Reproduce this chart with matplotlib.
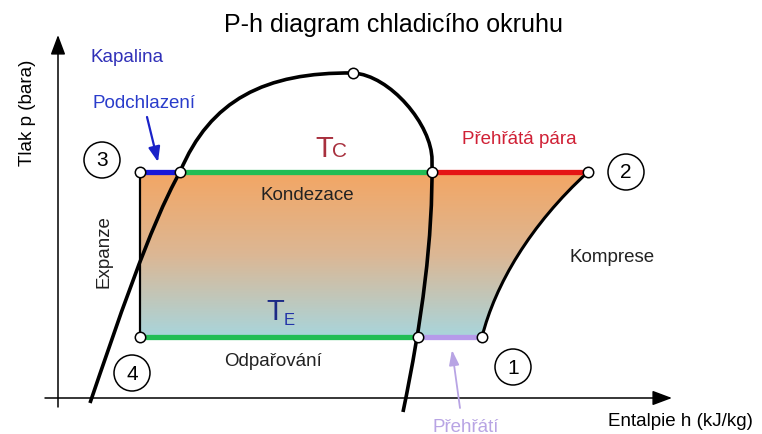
import matplotlib
matplotlib.use("Agg")
import matplotlib.pyplot as plt
import numpy as np
from matplotlib.patches import Circle, PathPatch
from matplotlib.path import Path
from matplotlib.colors import LinearSegmentedColormap

plt.rcParams['font.family'] = ['Liberation Sans', 'DejaVu Sans']

# ---- data (schematic diagram units: h to the right, p downward in image space) ----
p_cond = 172          # condensation pressure level
p_evap = 337          # evaporation pressure level
h_state = [482, 588, 140, 140]       # states 1, 2, 3, 4
p_state = [337, 172, 172, 337]
state_labels = ['1', '2', '3', '4']
label_h = [513, 626, 102, 132]
label_p = [367, 172, 160, 373]
h_liq_cond = 180      # saturated liquid at condensation pressure
h_vap_cond = 432      # saturated vapour at condensation pressure
h_vap_evap = 418      # saturated vapour at evaporation pressure
h_crit, p_crit = 353, 73

# saturation dome as Bezier anchors / controls
liq_low_h = [90, 115, 150, 180]
liq_low_p = [403, 330, 225, 172]
liq_up_h = [180, 210, 265, 353]
liq_up_p = [172, 100, 72, 73]
vap_up_h = [353, 390, 432, 432]
vap_up_p = [73, 75, 125, 160]
vap_low_h = [432, 433, 422, 403]
vap_low_p = [160, 240, 320, 412]
# compression curve 1 -> 2 (Bezier)
comp_h = [482, 495, 530, 588]
comp_p = [337, 285, 225, 172]

fig = plt.figure(figsize=(7.62, 4.34), dpi=100)
ax = fig.add_axes([0, 0, 1, 1])
ax.set_xlim(0, 762)
ax.set_ylim(434, 0)
ax.axis('off')

C4 = [Path.CURVE4] * 3

def bez(hs, ps):
    return Path(list(zip(hs, ps)), [Path.MOVETO] + C4)

# ---- gradient-filled cycle area ----
verts = [(h_state[2], p_cond), (h_state[1], p_cond)] + list(zip(comp_h[::-1][1:], comp_p[::-1][1:])) \
        + [(h_state[3], p_evap), (h_state[2], p_cond)]
codes = [Path.MOVETO, Path.LINETO] + C4 + [Path.LINETO, Path.CLOSEPOLY]
area = PathPatch(Path(verts, codes), facecolor='none', edgecolor='none')
ax.add_patch(area)
cmap = LinearSegmentedColormap.from_list('g', ['#F3A664', '#DCB794', '#A8D5DC'])
grad = np.linspace(0, 1, 256).reshape(-1, 1)
im = ax.imshow(grad, cmap=cmap, aspect='auto',
               extent=[h_state[2], h_state[1], p_evap, p_cond], zorder=1, interpolation='bilinear')
im.set_clip_path(area)
ax.set_xlim(0, 762)
ax.set_ylim(434, 0)

# ---- axes arrows ----
ax.annotate('', xy=(672, 398), xytext=(45, 398),
            arrowprops=dict(arrowstyle='-|>,head_length=1.2,head_width=0.45', color='black', lw=1.1,
                            shrinkA=0, shrinkB=0))
ax.annotate('', xy=(58, 35), xytext=(58, 407),
            arrowprops=dict(arrowstyle='-|>,head_length=1.2,head_width=0.45', color='black', lw=1.1,
                            shrinkA=0, shrinkB=0))

# ---- saturation dome ----
for hs, ps in [(liq_low_h, liq_low_p), (liq_up_h, liq_up_p), (vap_up_h, vap_up_p), (vap_low_h, vap_low_p)]:
    ax.add_patch(PathPatch(bez(hs, ps), facecolor='none', edgecolor='black', lw=2.6,
                           capstyle='butt', zorder=3))

# ---- cycle lines ----
ax.plot([h_state[2], h_state[3]], [p_cond, p_evap], color='black', lw=1.6, zorder=3)
ax.add_patch(PathPatch(bez(comp_h, comp_p), facecolor='none', edgecolor='black', lw=2.2, zorder=3))
ax.plot([h_state[2], h_liq_cond], [p_cond, p_cond], color='#1717D8', lw=3.8, solid_capstyle='butt', zorder=4)
ax.plot([h_liq_cond, h_vap_cond], [p_cond, p_cond], color='#22BD55', lw=3.8, solid_capstyle='butt', zorder=4)
ax.plot([h_vap_cond, h_state[1]], [p_cond, p_cond], color='#E51515', lw=3.8, solid_capstyle='butt', zorder=4)
ax.plot([h_state[3], h_vap_evap], [p_evap, p_evap], color='#22BD55', lw=3.8, solid_capstyle='butt', zorder=4)
ax.plot([h_vap_evap, h_state[0]], [p_evap, p_evap], color='#B69AEA', lw=3.8, solid_capstyle='butt', zorder=4)

# ---- markers ----
mk_h = h_state + [h_liq_cond, h_vap_cond, h_vap_evap, h_crit]
mk_p = p_state + [p_cond, p_cond, p_evap, p_crit]
ax.plot(mk_h, mk_p, 'o', ms=7.5, mfc='white', mec='black', mew=1.1, zorder=6)

# ---- numbered circles ----
for lab, x, y in zip(state_labels, label_h, label_p):
    ax.add_patch(Circle((x, y), 18, facecolor='white', edgecolor='black', lw=1.1, zorder=5))
    ax.text(x, y + 1, lab, ha='center', va='center', fontsize=15, zorder=6)

# ---- texts ----
fs = 13.5
ax.text(393, 25, 'P-h diagram chladicího okruhu', ha='center', va='center', fontsize=18)
ax.text(27, 113, 'Tlak p (bara)', ha='center', va='center', rotation=90, fontsize=fs)
ax.text(680, 422, 'Entalpie h (kJ/kg)', ha='center', va='center', fontsize=fs)
ax.text(90, 58, 'Kapalina', ha='left', va='center', fontsize=fs, color='#3030B8')
ax.text(93, 103, 'Podchlazení', ha='left', va='center', fontsize=fs, color='#2A3CCB')
ax.text(307, 195, 'Kondezace', ha='center', va='center', fontsize=fs, color='#222222')
ax.text(519, 140, 'Přehřátá pára', ha='center', va='center', fontsize=fs, color='#D02035')
ax.text(612, 257, 'Komprese', ha='center', va='center', fontsize=fs, color='#222222')
ax.text(104, 252, 'Expanze', ha='center', va='center', rotation=90, fontsize=fs, color='#222222')
ax.text(273, 362, 'Odpařování', ha='center', va='center', fontsize=fs, color='#222222')
ax.text(466, 427, 'Přehřátí', ha='center', va='center', fontsize=fs, color='#B8A4E4')
ax.text(315, 157, 'T', ha='left', va='baseline', fontsize=21, color='#A8303E')
ax.text(332, 157, 'C', ha='left', va='baseline', fontsize=15, color='#A8303E')
ax.text(266, 320, 'T', ha='left', va='baseline', fontsize=21, color='#1C2A86')
ax.text(284, 325, 'E', ha='left', va='baseline', fontsize=12, color='#2233A8')

# ---- pointer arrows ----
ax.annotate('', xy=(158, 162), xytext=(147, 117),
            arrowprops=dict(arrowstyle='-|>,head_length=0.9,head_width=0.35', color='#1A22C8', lw=1.6,
                            shrinkA=0, shrinkB=0), zorder=5)
ax.annotate('', xy=(452, 350), xytext=(460, 408),
            arrowprops=dict(arrowstyle='-|>,head_length=0.9,head_width=0.3', color='#B8A4E4', lw=1.3,
                            shrinkA=0, shrinkB=0), zorder=5)

fig.savefig('out.png', dpi=100)
